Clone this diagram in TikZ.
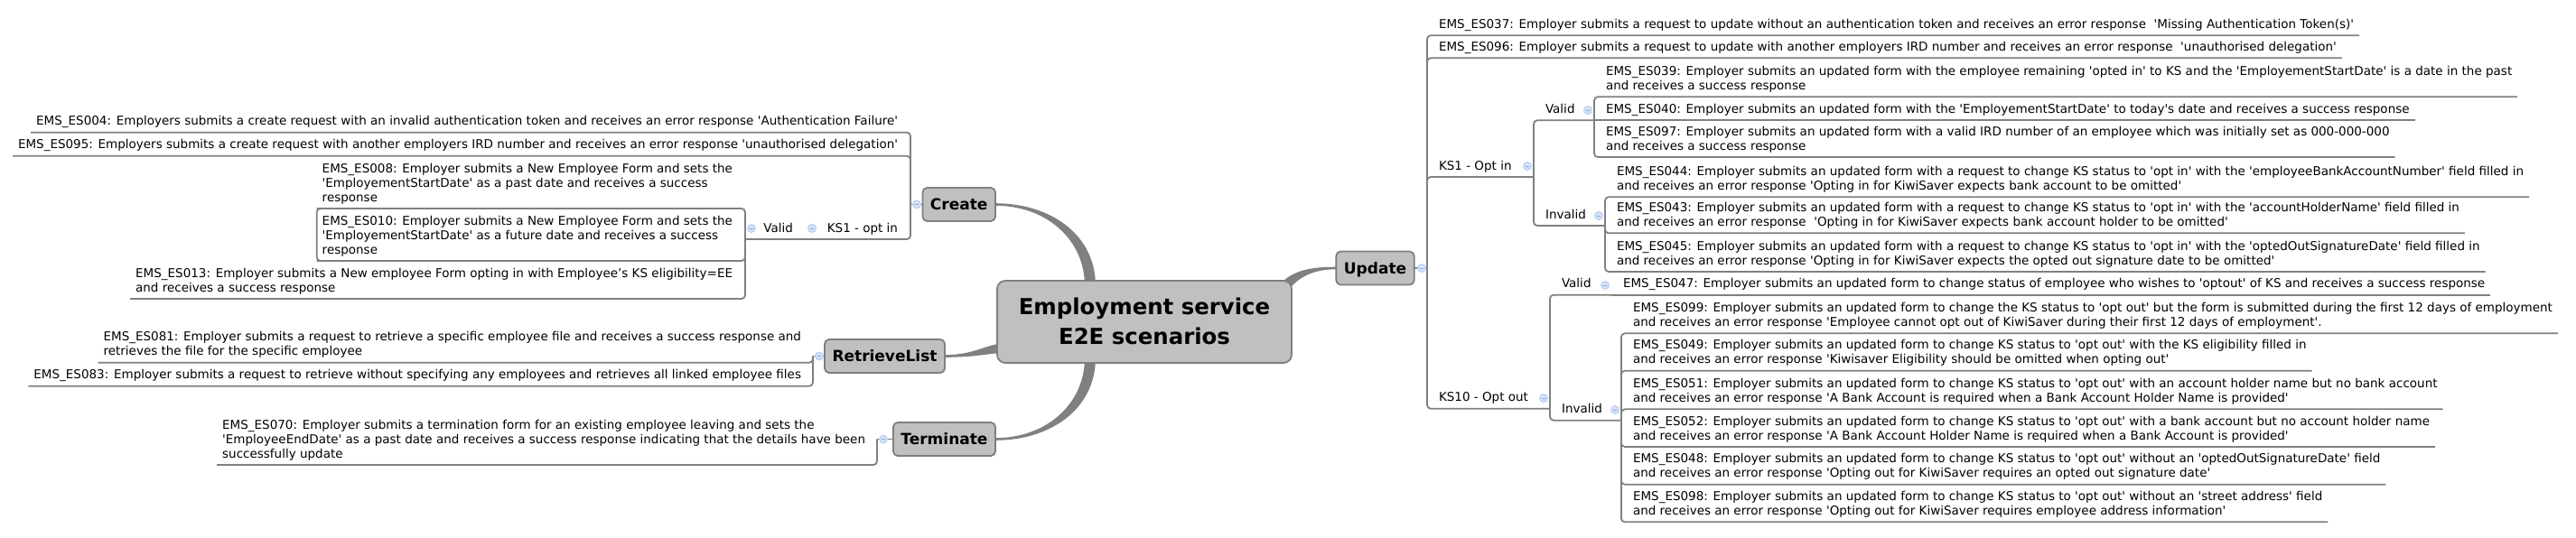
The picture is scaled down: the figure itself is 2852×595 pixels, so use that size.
\documentclass[tikz,border=0pt]{standalone}
\usetikzlibrary{calc}
\font\fleaf="DejaVu Sans" at 13.5pt
\font\fmain="DejaVu Sans/B" at 17pt
\font\froot="DejaVu Sans/B" at 24.4pt
\definecolor{lg}{HTML}{808080}
\definecolor{nfill}{HTML}{C0C0C0}
\definecolor{nborder}{HTML}{7F7F7F}
\definecolor{bfill}{HTML}{D3E2F7}
\definecolor{bdraw}{HTML}{AEC5EB}
\definecolor{bminus}{HTML}{8DA8D8}
\newcommand\lnstrut{\vrule height 11pt depth 5pt width 0pt\relax}
\newcommand\rootstrut{\vrule height 25.3pt depth 7.7pt width 0pt\relax}
\newcommand\bmin{{\color{bminus}\rule[-0.5pt]{4.6pt}{1pt}}}
\pgfdeclarelayer{bg}
\pgfsetlayers{bg,main}
\begin{document}
\begin{tikzpicture}[x=1pt,y=-1pt,
  leafR/.style={anchor=south west, inner xsep=6pt, inner ysep=2.8pt, outer sep=0pt, align=left, font={\fleaf\baselineskip=16pt\relax}},
  leafL/.style={leafR, anchor=south east},
  tline/.style={draw=lg, line width=1.8pt, rounded corners=4pt},
  mainnode/.style={draw=nborder, fill=nfill, line width=1.8pt, rounded corners=5pt, outer sep=0pt, font=\fmain, inner xsep=8.5pt, inner ysep=0pt, minimum height=37pt, text height=15pt, text depth=3pt},
  rootnode/.style={draw=nborder, fill=nfill, line width=1.8pt, rounded corners=9pt, outer sep=0pt, font={\froot\baselineskip=33pt\relax}, align=center, inner sep=0pt, minimum width=326pt, minimum height=91pt},
  bul/.style={circle, fill=bfill, draw=bdraw, line width=0.7pt, minimum size=9pt, inner sep=0pt},
  taper/.style={fill=lg, draw=none}]
\useasboundingbox (0,0) rectangle (2852,595);

% ---------- root and main topics
\node[rootnode] (root) at (1267,356.5) {\rootstrut Employment service\\\rootstrut E2E scenarios};
\node[mainnode, anchor=east] (create) at (1102,226.5) {Create};
\node[mainnode] (update) at (1522.5,297) {Update};
\node[mainnode] (retr) at (979.5,394.5) {RetrieveList};
\node[mainnode, anchor=east] (term) at (1102,486.5) {Terminate};

% ---------- junctions and collapse markers of main topics
\coordinate (jCreate) at (1008,226.5);
\coordinate (jUpd) at (1580,297);
\coordinate (jRetr) at (900,394.5);
\coordinate (jTerm) at (971,486.5);
\node[bul] (bCreate) at (1015,226.5) {\bmin};
\node[bul] (bUpd) at (1574,297) {\bmin};
\node[bul] (bRetr) at (907,394.5) {\bmin};
\node[bul] (bTerm) at (978,486.5) {\bmin};

% ---------- Update subtree
\node[leafR] (es037) at (1587,39.3) {\lnstrut EMS\_ES037: Employer submits a request to update without an authentication token and receives an error response\ \ 'Missing Authentication Token(s)'};
\node[leafR] (es096) at (1587,64.3) {\lnstrut EMS\_ES096: Employer submits a request to update with another employers IRD number and receives an error response\ \ 'unauthorised delegation'};
\node[leafR] (ks1) at (1587,196) {\lnstrut KS1 - Opt in};
\node[bul] (bks1) at (1691,184) {\bmin};
\coordinate (jks1) at (1698,196);
\node[leafR] (ks10) at (1587,452.7) {\lnstrut KS10 - Opt out};
\node[bul] (bks10) at (1709,441) {\bmin};
\coordinate (jks10) at (1716,452.7);

\node[leafR] (v1) at (1705,133.3) {\lnstrut Valid};
\node[bul] (bv1) at (1758,122) {\bmin};
\coordinate (jv1) at (1765,133.3);
\node[leafR] (i1) at (1705,250) {\lnstrut Invalid};
\node[bul] (bi1) at (1770,239) {\bmin};
\coordinate (ji1) at (1777,250);

\node[leafR] (es039) at (1772,107.3) {\lnstrut EMS\_ES039: Employer submits an updated form with the employee remaining 'opted in' to KS and the 'EmployementStartDate' is a date in the past\\\lnstrut and receives a success response};
\node[leafR] (es040) at (1772,133.3) {\lnstrut EMS\_ES040: Employer submits an updated form with the 'EmployementStartDate' to today's date and receives a success response};
\node[leafR] (es097) at (1772,174) {\lnstrut EMS\_ES097: Employer submits an updated form with a valid IRD number of an employee which was initially set as 000-000-000\\\lnstrut and receives a success response};
\node[leafR] (es044) at (1784,218.3) {\lnstrut EMS\_ES044: Employer submits an updated form with a request to change KS status to 'opt in' with the 'employeeBankAccountNumber' field filled in\\\lnstrut and receives an error response 'Opting in for KiwiSaver expects bank account to be omitted'};
\node[leafR] (es043) at (1784,258.3) {\lnstrut EMS\_ES043: Employer submits an updated form with a request to change KS status to 'opt in' with the 'accountHolderName' field filled in\\\lnstrut and receives an error response\ \ 'Opting in for KiwiSaver expects bank account holder to be omitted'};
\node[leafR] (es045) at (1784,301) {\lnstrut EMS\_ES045: Employer submits an updated form with a request to change KS status to 'opt in' with the 'optedOutSignatureDate' field filled in\\\lnstrut and receives an error response 'Opting in for KiwiSaver expects the opted out signature date to be omitted'};

\node[leafR] (v10) at (1723,326.7) {\lnstrut Valid};
\node[bul] (bv10) at (1777,316) {\bmin};
\coordinate (jv10) at (1784,326.7);
\node[leafR] (i10) at (1723,465.7) {\lnstrut Invalid};
\node[bul] (bi10) at (1788,454) {\bmin};
\coordinate (ji10) at (1795,465.7);

\node[leafR] (es047) at (1791,326.7) {\lnstrut EMS\_ES047: Employer submits an updated form to change status of employee who wishes to 'optout' of KS and receives a success response};
\node[leafR] (es099) at (1802,369.3) {\lnstrut EMS\_ES099: Employer submits an updated form to change the KS status to 'opt out' but the form is submitted during the first 12 days of employment\\\lnstrut and receives an error response 'Employee cannot opt out of KiwiSaver during their first 12 days of employment'.};
\node[leafR] (es049) at (1802,410.7) {\lnstrut EMS\_ES049: Employer submits an updated form to change KS status to 'opt out' with the KS eligibility filled in\\\lnstrut and receives an error response 'Kiwisaver Eligibility should be omitted when opting out'};
\node[leafR] (es051) at (1802,453.3) {\lnstrut EMS\_ES051: Employer submits an updated form to change KS status to 'opt out' with an account holder name but no bank account\\\lnstrut and receives an error response 'A Bank Account is required when a Bank Account Holder Name is provided'};
\node[leafR] (es052) at (1802,495) {\lnstrut EMS\_ES052: Employer submits an updated form to change KS status to 'opt out' with a bank account but no account holder name\\\lnstrut and receives an error response 'A Bank Account Holder Name is required when a Bank Account is provided'};
\node[leafR] (es048) at (1802,536.7) {\lnstrut EMS\_ES048: Employer submits an updated form to change KS status to 'opt out' without an 'optedOutSignatureDate' field\\\lnstrut and receives an error response 'Opting out for KiwiSaver requires an opted out signature date'};
\node[leafR] (es098) at (1802,578.3) {\lnstrut EMS\_ES098: Employer submits an updated form to change KS status to 'opt out' without an 'street address' field\\\lnstrut and receives an error response 'Opting out for KiwiSaver requires employee address information'};

% ---------- Create subtree
\node[leafL] (es004) at (1000,146.7) {\lnstrut EMS\_ES004: Employers submits a create request with an invalid authentication token and receives an error response 'Authentication Failure'};
\node[leafL] (es095) at (1000,172.7) {\lnstrut EMS\_ES095: Employers submits a create request with another employers IRD number and receives an error response 'unauthorised delegation'};
\node[leafL] (ks1l) at (1000,265) {\lnstrut KS1 - opt in};
\node[bul] (bks1l) at (899,253) {\bmin};
\coordinate (jks1l) at (892,265);
\node[leafL] (vl) at (884,265) {\lnstrut Valid};
\node[bul] (bvl) at (832,253) {\bmin};
\coordinate (jvl) at (825,265);
\node[leafL] (es008) at (817,231) {\lnstrut EMS\_ES008: Employer submits a New Employee Form and sets the\\\lnstrut 'EmployementStartDate' as a past date and receives a success\\\lnstrut response};
\node[leafL] (es010) at (817,289) {\lnstrut EMS\_ES010: Employer submits a New Employee Form and sets the\\\lnstrut 'EmployementStartDate' as a future date and receives a success\\\lnstrut response};
\node[leafL] (es013) at (817,331) {\lnstrut EMS\_ES013: Employer submits a New employee Form opting in with Employee’s KS eligibility=EE\\\lnstrut and receives a success response};

% ---------- RetrieveList and Terminate subtrees
\node[leafL] (es081) at (893,401.7) {\lnstrut EMS\_ES081: Employer submits a request to retrieve a specific employee file and receives a success response and\\\lnstrut retrieves the file for the specific employee};
\node[leafL] (es083) at (893,427.7) {\lnstrut EMS\_ES083: Employer submits a request to retrieve without specifying any employees and retrieves all linked employee files};
\node[leafL] (es070) at (964,515) {\lnstrut EMS\_ES070: Employer submits a termination form for an existing employee leaving and sets the\\\lnstrut 'EmployeeEndDate' as a past date and receives a success response indicating that the details have been\\\lnstrut successfully update};

% ---------- connectors
\begin{pgfonlayer}{bg}
% tapered main branches
\fill[taper] ($(create.east)+(0,-1.3)$) .. controls +(60,0) and +(0,-58) .. ($(root.north west)+(109,6)$)
  -- ($(root.north west)+(97,6)$) .. controls +(0,-52) and +(56,0) .. ($(create.east)+(0,1.3)$) -- cycle;
\fill[taper] ($(term.east)+(0,1.3)$) .. controls +(60,0) and +(0,58) .. ($(root.south west)+(109,-6)$)
  -- ($(root.south west)+(97,-6)$) .. controls +(0,52) and +(56,0) .. ($(term.east)+(0,-1.3)$) -- cycle;
\fill[taper] ($(retr.east)+(0,-1.3)$) .. controls +(32,0) and +(-18,1) .. ($(root.west)+(6,24)$)
  -- ($(root.west)+(6,34.5)$) .. controls +(-16,0.5) and +(34,0) .. ($(retr.east)+(0,1.3)$) -- cycle;
\fill[taper] ($(update.west)+(0,-1.3)$) .. controls +(-27,0) and +(14,-15) .. ($(root.north east)+(-12,3)$)
  -- ($(root.north east)+(-4,11)$) .. controls +(12,-16) and +(-24,0) .. ($(update.west)+(0,1.3)$) -- cycle;

% Update tree
\draw[tline] (update.east) -- (jUpd);
\draw[tline] (jUpd) |- (es037.south east);
\draw[tline] (jUpd) |- (es096.south east);
\draw[tline] (jUpd) |- (jks1);
\draw[tline] (jUpd) |- (jks10);
\draw[tline] (jks1) |- (jv1);
\draw[tline] (jks1) |- (ji1);
\draw[tline] (jv1) |- (es039.south east);
\draw[tline] (jv1) -- (es040.south east);
\draw[tline] (jv1) |- (es097.south east);
\draw[tline] (ji1) |- (es044.south east);
\draw[tline] (ji1) |- (es043.south east);
\draw[tline] (ji1) |- (es045.south east);
\draw[tline] (jks10) |- (jv10);
\draw[tline] (jks10) |- (ji10);
\draw[tline] (jv10) -- (es047.south east);
\draw[tline] (ji10) |- (es099.south east);
\draw[tline] (ji10) |- (es049.south east);
\draw[tline] (ji10) |- (es051.south east);
\draw[tline] (ji10) |- (es052.south east);
\draw[tline] (ji10) |- (es048.south east);
\draw[tline] (ji10) |- (es098.south east);

% Create tree
\draw[tline] (create.west) -- (jCreate);
\draw[tline] (jCreate) |- (es004.south west);
\draw[tline] (jCreate) |- (es095.south west);
\draw[tline] (jCreate) |- (jks1l);
\draw[tline] (jks1l) -- (jvl);
\draw[tline] (jvl) |- (es008.south west);
\draw[tline] (jvl) |- (es010.south west);
\draw[tline] (jvl) |- (es013.south west);
\draw[tline] ([xshift=8pt]es008.south west) -- (es008.south west) -- (es010.south west) -- ([xshift=8pt]es010.south west);

% RetrieveList and Terminate trees
\draw[tline] (retr.west) -- (jRetr);
\draw[tline] (jRetr) |- (es081.south west);
\draw[tline] (jRetr) |- (es083.south west);
\draw[tline] (term.west) -- (jTerm);
\draw[tline] (jTerm) |- (es070.south west);
\end{pgfonlayer}
\end{tikzpicture}
\end{document}
